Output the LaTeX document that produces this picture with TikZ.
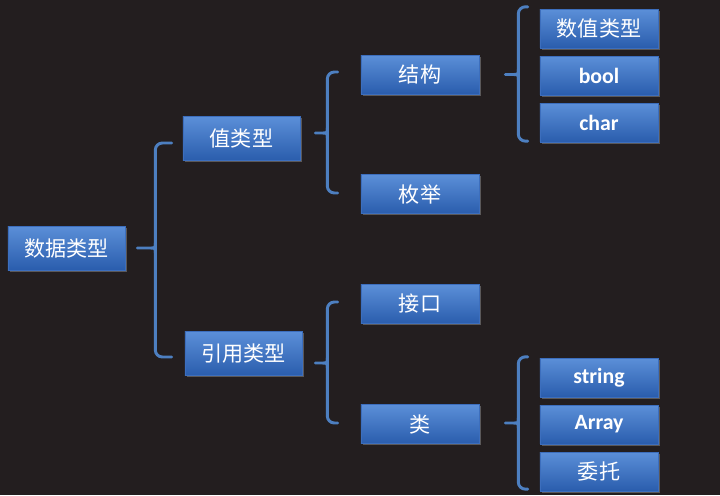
\documentclass[tikz,border=0pt]{standalone}
\usepackage{fontspec}
\setmainfont{Carlito}
\newfontfamily\cjk{Noto Sans CJK SC}
\usetikzlibrary{positioning, calc, shadows}
\definecolor{bgdark}{HTML}{231E1F}
\definecolor{boxtop}{HTML}{5B8FD8}
\definecolor{boxbot}{HTML}{2A5DAD}
\definecolor{boxline}{HTML}{3C6EBD}
\definecolor{bracecol}{HTML}{4D7FC0}

\begin{document}
\begin{tikzpicture}[x=0.025cm, y=-0.025cm, node distance=0.19cm,
            tbox/.style={rectangle, draw=boxline, line width=0.4pt, top color=boxtop, bottom color=boxbot, text=white, minimum width=2.95cm, minimum height=0.97cm, inner sep=0pt, drop shadow={opacity=0.6, shadow xshift=1.2pt, shadow yshift=-1.2pt}},
            bigbox/.style={tbox, minimum width=2.925cm, minimum height=1.1cm},
            zh/.style={font=\cjk\fontsize{15}{18}\selectfont},
            en/.style={font=\bfseries\fontsize{15.5}{18}\selectfont},
            brace/.style={draw=bracecol, line width=2.1pt, rounded corners=5pt, line cap=round},
            tip/.style={draw=bracecol, line width=2.1pt, sharp corners, line cap=round}]
            \fill[bgdark] (0,0) rectangle (720,495);
            \useasboundingbox (0,0) rectangle (720,495);
            % left part
            \node[bigbox, zh] (root) at (66.5,248) {数据类型};
            \node[bigbox, zh] (zhi) at (241.5,138.5) {值类型};
            \node[bigbox, zh] (yin) at (243.5,353.5) {引用类型};
            % middle column
            \node[tbox, zh] (jiegou) at (420,74.5) {结构};
            \node[tbox, zh] (meiju) at (420,194) {枚举};
            \node[tbox, zh] (jiekou) at (420,304) {接口};
            \node[tbox, zh] (lei) at (420,424) {类};
            % right column
            \node[tbox, zh] (shuzhi) at (599,28.5) {数值类型};
            \node[tbox, en, below=of shuzhi] (bool) {bool};
            \node[tbox, en, below=of bool] (char) {char};
            \node[tbox, en] (str) at (599,377.5) {string};
            \node[tbox, en, below=of str] (arr) {Array};
            \node[tbox, zh, below=of arr] (weituo) {委托};
            % braces: tip, top end, bottom end
            \coordinate (b1) at ($(root.east)+(30,0)$);
            \coordinate (t1) at ($(zhi.west)+(-11,4.5)$);
            \coordinate (e1) at ($(yin.west)+(-13,3.5)$);
            \coordinate (b2) at ($(zhi.east)+(27,-5.5)$);
            \coordinate (t2) at ($(jiegou.west)+(-23,-2.5)$);
            \coordinate (e2) at ($(meiju.west)+(-23,-1)$);
            \coordinate (b3) at ($(jiegou.east)+(39,0)$);
            \coordinate (t3) at ($(shuzhi.north west)+(-12,-2)$);
            \coordinate (e3) at ($(char.south west)+(-12,-1)$);
            \coordinate (b4) at ($(yin.east)+(25,9.5)$);
            \coordinate (t4) at ($(jiekou.west)+(-23,-2)$);
            \coordinate (e4) at ($(lei.west)+(-23,-1)$);
            \coordinate (b5) at ($(lei.east)+(39,-1)$);
            \coordinate (t5) at ($(str.north west)+(-12,-1)$);
            \coordinate (e5) at ($(weituo.south west)+(-12,-2)$);
            \draw[brace] (t1) -| (b1 |- e1) -- (e1);
            \draw[brace] (t2) -| (b2 |- e2) -- (e2);
            \draw[brace] (t3) -| (b3 |- e3) -- (e3);
            \draw[brace] (t4) -| (b4 |- e4) -- (e4);
            \draw[brace] (t5) -| (b5 |- e5) -- (e5);
            \draw[tip] ($(root.east)+(12,0)$) -- ($(b1)+(-5,0)$) .. controls (b1) .. ($(b1)+(0,-5)$)
                ($(b1)+(-5,0)$) .. controls (b1) .. ($(b1)+(0,5)$);
            \draw[tip] ($(zhi.east)+(15,-5.5)$) -- ($(b2)+(-5,0)$) .. controls (b2) .. ($(b2)+(0,-5)$)
                ($(b2)+(-5,0)$) .. controls (b2) .. ($(b2)+(0,5)$);
            \draw[tip] ($(jiegou.east)+(26,0)$) -- ($(b3)+(-5,0)$) .. controls (b3) .. ($(b3)+(0,-5)$)
                ($(b3)+(-5,0)$) .. controls (b3) .. ($(b3)+(0,5)$);
            \draw[tip] ($(yin.east)+(13,9.5)$) -- ($(b4)+(-5,0)$) .. controls (b4) .. ($(b4)+(0,-5)$)
                ($(b4)+(-5,0)$) .. controls (b4) .. ($(b4)+(0,5)$);
            \draw[tip] ($(lei.east)+(26,-1)$) -- ($(b5)+(-5,0)$) .. controls (b5) .. ($(b5)+(0,-5)$)
                ($(b5)+(-5,0)$) .. controls (b5) .. ($(b5)+(0,5)$);
        \end{tikzpicture}
\end{document}
